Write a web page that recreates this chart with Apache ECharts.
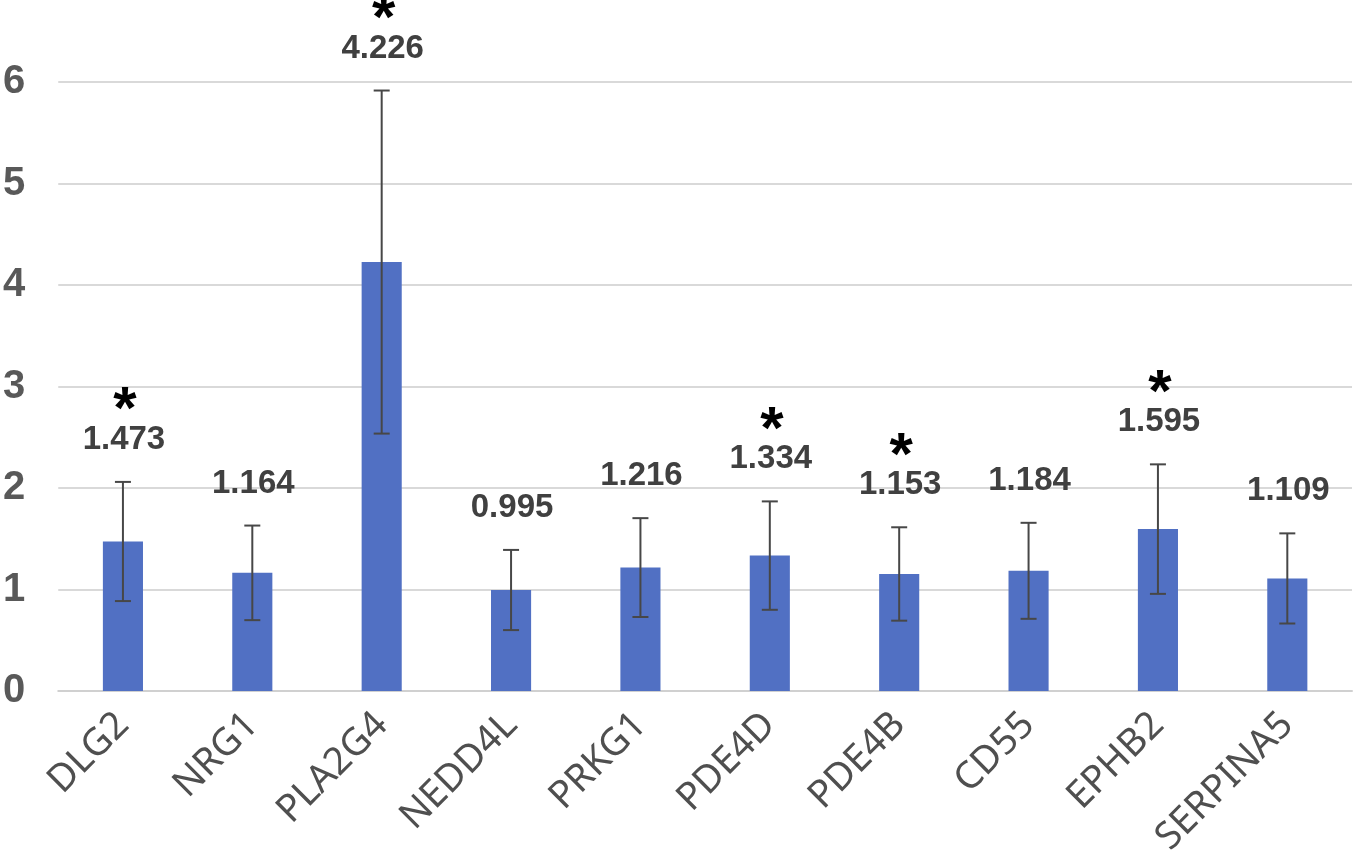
<!DOCTYPE html>
<html>
<head>
<meta charset="utf-8">
<title>Relative expression</title>
<script src="https://cdn.jsdelivr.net/npm/echarts@6/dist/echarts.min.js"></script>
<style>
  html, body { margin: 0; padding: 0; background: #fff; }
  #chart { width: 1355px; height: 865px; }
</style>
</head>
<body>
<div id="chart"></div>
<script>
// 数据
const genes = ['DLG2', 'NRG1', 'PLA2G4', 'NEDD4L', 'PRKG1', 'PDE4D', 'PDE4B', 'CD55', 'EPHB2', 'SERPINA5'];
const means = [1.473, 1.164, 4.226, 0.995, 1.216, 1.334, 1.153, 1.184, 1.595, 1.109];
const errors = [0.587, 0.466, 1.69, 0.395, 0.487, 0.534, 0.46, 0.473, 0.638, 0.444];
const significant = ['DLG2', 'PLA2G4', 'PDE4D', 'PDE4B', 'EPHB2'];
const yTicks = [0, 1, 2, 3, 4, 5, 6];

const chart = echarts.init(document.getElementById('chart'));

// 误差线数据: [index, low, high, mean, 是否显著]
const errData = means.map((m, i) => [i, m - errors[i], m + errors[i], m, significant.includes(genes[i]) ? 1 : 0]);

const renderError = (params, api) => {
  const idx = api.value(0);
  const top = api.coord([idx, api.value(2)]);
  const bot = api.coord([idx, api.value(1)]);
  const cap = 8;
  const lineStyle = { stroke: '#474747', lineWidth: 2 };
  const children = [
    { type: 'line', shape: { x1: top[0], y1: top[1], x2: bot[0], y2: bot[1] }, style: lineStyle },
    { type: 'line', shape: { x1: top[0] - cap, y1: top[1], x2: top[0] + cap, y2: top[1] }, style: lineStyle },
    { type: 'line', shape: { x1: bot[0] - cap, y1: bot[1], x2: bot[0] + cap, y2: bot[1] }, style: lineStyle },
    {
      type: 'text',
      style: {
        text: api.value(3).toFixed(3),
        x: top[0] + 1, y: top[1] - 42,
        align: 'center', verticalAlign: 'middle',
        fill: '#404040', fontSize: 33, fontWeight: 'bold',
        fontFamily: 'Liberation Sans, Arial, sans-serif'
      }
    }
  ];
  if (api.value(4)) {
    children.push({
      type: 'text',
      style: {
        text: '*',
        x: top[0] + 2, y: top[1] - 70,
        align: 'center', verticalAlign: 'middle',
        fill: '#000', fontSize: 60, fontWeight: 'bold',
        fontFamily: 'Liberation Sans, Arial, sans-serif'
      }
    });
  }
  return { type: 'group', children };
};

const option = {
  animation: false,
  grid: { left: 56, right: 3, top: 82, bottom: 174 },
  xAxis: {
    type: 'category',
    data: genes,
    axisLine: { lineStyle: { color: '#d0d0d0', width: 2 } },
    axisTick: { show: false },
    axisLabel: {
      interval: 0,
      rotate: 45,
      margin: 28,
      color: '#4f4f4f',
      fontSize: 38,
      fontFamily: 'Noto Sans, Open Sans, sans-serif'
    }
  },
  yAxis: {
    type: 'value',
    min: yTicks[0],
    max: yTicks[yTicks.length - 1],
    interval: 1,
    axisLine: { show: false },
    axisTick: { show: false },
    axisLabel: {
      margin: 33,
      color: '#595959',
      fontSize: 40,
      fontWeight: 'bold',
      fontFamily: 'Liberation Sans, Arial, sans-serif'
    },
    splitLine: { lineStyle: { color: '#d9d9d9', width: 2 } }
  },
  series: [
    {
      type: 'bar',
      data: means,
      barWidth: '31%',
      itemStyle: { color: '#5170c3' }
    },
    {
      type: 'custom',
      data: errData,
      clip: false,
      z: 5,
      renderItem: renderError
    }
  ]
};

chart.setOption(option);
</script>
</body>
</html>
